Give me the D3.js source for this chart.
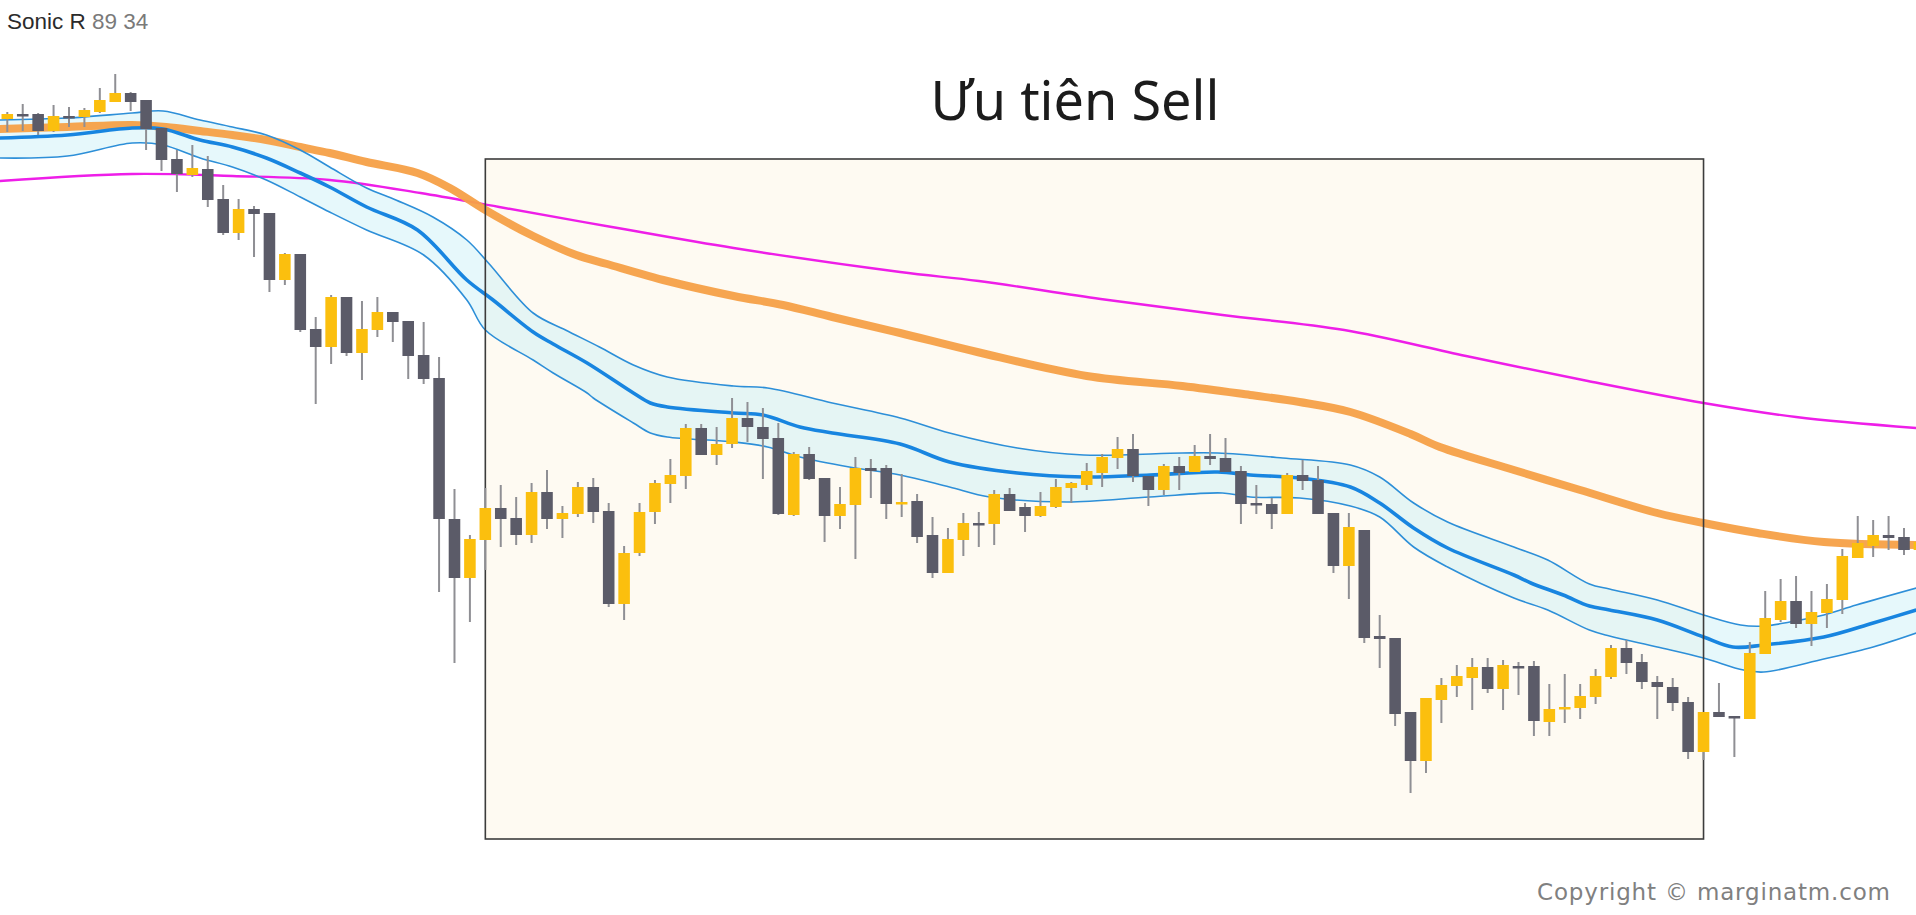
<!DOCTYPE html>
<html><head><meta charset="utf-8">
<script src="https://cdn.jsdelivr.net/npm/d3@7"></script>
<style>html,body{margin:0;padding:0;background:#fff;overflow:hidden}</style>
</head><body><svg id="chart"></svg>
<script>
// ---- Candle data (price points) ----
const openP=[881,886,886,869,884,883,888,898,907,900,
872,841,825,831,801,767,791,787,720,746,
671,653,703,647,670,688,679,645,622,481,
422,460,492,482,465,508,481,486,513,489,
396,447,488,516,524,572,545,556,582,573,
562,485,546,522,484,495,532,532,496,499,
465,427,460,477,476,506,493,484,493,512,
515,527,542,551,524,510,534,528,544,542,
529,497,496,486,525,520,487,434,470,364,
362,288,239,300,314,322,333,311,334,334,
278,291,292,303,323,352,338,318,313,298,
248,288,284,281,346,380,399,376,387,400,
442,454,465,463,450];
const closeP=[886,885,869,884,882,890,900,907,898,871,
840,826,832,800,767,791,786,720,746,670,
653,703,647,671,688,678,644,621,481,422,
461,492,481,465,508,481,487,513,488,396,
447,488,517,525,572,545,556,582,573,561,
486,546,521,484,496,532,529,496,498,463,
427,461,477,475,506,489,484,494,513,517,
529,543,551,524,510,534,527,544,541,528,
496,495,486,525,519,486,434,473,362,361,
286,239,302,315,324,333,311,335,333,279,
291,293,304,324,352,337,318,313,297,248,
288,283,282,347,382,399,376,388,401,444,
457,465,462,450,458];
const highP=[888,896,887,895,893,892,912,926,908,900,
872,850,855,844,815,801,794,787,747,746,
683,705,703,699,703,688,679,678,643,511,
465,512,515,503,517,530,494,518,522,497,
454,497,520,541,576,576,573,602,598,592,
577,548,553,522,513,543,541,535,526,506,
483,472,487,488,510,512,497,508,521,518,
537,546,563,566,524,536,543,555,566,562,
534,515,502,527,540,534,487,487,470,385,
362,288,302,322,335,342,342,340,338,339,
316,326,316,331,355,360,346,324,322,303,
288,317,284,358,409,421,424,409,416,451,
484,480,484,472,462];
const lowP=[868,869,865,868,873,873,887,898,889,850,
829,808,823,793,765,760,743,708,715,668,
596,636,644,620,663,658,621,616,408,337,
378,430,453,455,457,471,462,483,477,393,
380,444,476,497,511,545,535,552,558,521,
485,484,520,458,471,441,502,481,483,457,
422,427,444,453,455,489,468,483,492,497,
510,513,531,518,494,505,510,528,535,528,
476,486,471,486,510,486,427,401,357,332,
274,207,227,277,303,290,307,290,305,264,
264,277,281,296,321,326,311,281,289,241,
240,283,243,281,346,378,372,354,372,386,
442,443,450,445,448];

// ---- Indicator lines: [bar, value] ----
const emaHigh=[[-0.5,880],[3.9,882],[8.1,887],[10.1,889],[12.5,880],[14.6,873],[16.8,865],[19,850],[20.9,833],[23.3,812],[25.2,800],[27.6,783],[29.8,760],[31.2,737],[34.1,687],[36.2,670],[38.4,653],[40.6,635],[42.8,623],[47.1,614],[49.3,612],[53.5,597],[57.9,582],[61.1,567],[65.5,552],[69.8,545],[76.2,547],[78.5,547],[82.7,542],[87.1,535],[89,523],[91.2,497],[93.4,478],[97.7,453],[99.9,440],[102.6,416],[103.9,411],[107,400],[110,385],[112.4,375],[113.9,374],[115.6,378],[117.8,385],[119.9,395],[123.8,412]];
const emaClose=[[-0.5,862],[3.9,865],[8.1,872],[10.1,871],[12.5,860],[14.6,853],[16.8,842],[19,827],[20.9,813],[23.3,793],[26.6,770],[29.8,720],[31.5,700],[34.1,668],[35.4,656],[37.6,637],[40.6,607],[41.7,597],[42.8,593],[47.1,587],[49,585],[51.4,573],[53.5,567],[57.9,556],[61.1,538],[65.5,527],[69.8,523],[74.1,525],[78.5,528],[80.6,525],[83.8,522],[87.1,513],[89,497],[91.2,472],[93.4,452],[97.7,425],[98.8,417],[100.9,405],[102.6,394],[103.9,390],[107,380],[110,363],[111.9,353],[113.9,355],[117.8,363],[121,377],[123.8,390]];
const emaLow=[[-0.5,842],[3.9,844],[8.1,857],[10.1,855],[12.5,842],[14.6,833],[16.8,820],[19,803],[20.9,788],[23.3,770],[27,745],[29.8,700],[31,670],[34.1,640],[35.4,627],[37.6,607],[38,602],[40.6,577],[41.7,567],[42.8,563],[47.1,558],[49.3,553],[51.4,543],[54.6,533],[57.9,525],[61.1,513],[63.7,503],[68.7,498],[74.1,503],[78.8,507],[80.6,503],[83.8,502],[87.1,494],[89,483],[91.2,453],[93.4,433],[97.7,402],[99.9,390],[102.6,370],[103.9,364],[107,353],[110,342],[112.6,330],[113.9,328],[117.8,341],[121,353],[123.8,367]];
const ema89=[[-0.5,871],[3.9,873],[8.1,875],[10.3,873],[12.5,869],[14.6,865],[16.8,860],[19,853],[20.9,847],[23.3,838],[26.6,827],[28.7,812],[31,790],[34.1,764],[36.9,745],[38.9,736],[42.8,719],[47.1,704],[50.3,695],[53.5,683],[57.9,667],[62.9,648],[70,624],[76.2,614],[80.6,605],[83.8,598],[87.1,588],[91,566],[92.9,553],[97.7,530],[102,510],[107,487],[110,477],[113.5,467],[117.8,458],[123.8,455]];
const ema200=[[-0.5,819],[8.1,826],[14.6,824],[20.9,820],[26.8,807],[31.9,793],[39.2,773],[47.1,752],[57.9,728],[63,719],[70.9,701],[78.8,685],[86.7,670],[94.6,644],[102.5,619],[110,597],[116,583],[123.8,572]];

// ---- Zone and labels ----
const zoneBars=[31,110];
const zonePrices=[841,161];
const titleText="Ưu tiên Sell";
const indicatorName="Sonic R";
const indicatorParams="89 34";
const copyrightText="Copyright © marginatm.com";

const W=1916,H=915;
const svg=d3.select("#chart").attr("width",W).attr("height",H);
const x=d3.scaleLinear().domain([0,123]).range([7.3,1904]);
const y=d3.scaleLinear().domain([85,1000]).range([915,0]);
const step=x(1)-x(0);
const bw=step*0.75;

// zone fill
svg.append("rect")
  .attr("x",x(zoneBars[0])).attr("y",y(zonePrices[0]))
  .attr("width",x(zoneBars[1])-x(zoneBars[0]))
  .attr("height",y(zonePrices[1])-y(zonePrices[0]))
  .attr("fill","#fefaf2");

const line=d3.line().x(d=>x(d[0])).y(d=>y(d[1])).curve(d3.curveCatmullRom.alpha(0.5));

// band fill
const up=line(emaHigh);
const lowRev=line(emaLow.slice().reverse());
svg.append("path").attr("d",up+"L"+lowRev.slice(1)+"Z")
  .attr("fill","#c8f0f6").attr("fill-opacity",0.45);

svg.append("path").attr("d",line(ema200)).attr("fill","none")
  .attr("stroke","#ee1ee8").attr("stroke-width",2.4);
svg.append("path").attr("d",line(ema89)).attr("fill","none")
  .attr("stroke","#f5a047").attr("stroke-width",8).attr("stroke-opacity",0.95).attr("stroke-linecap","round");

svg.append("path").attr("d",line(emaHigh)).attr("fill","none")
  .attr("stroke","#2d8fd8").attr("stroke-width",1.6);
svg.append("path").attr("d",line(emaLow)).attr("fill","none")
  .attr("stroke","#2d8fd8").attr("stroke-width",1.6);
svg.append("path").attr("d",line(emaClose)).attr("fill","none")
  .attr("stroke","#1885e0").attr("stroke-width",3.6);

// zone border
svg.append("rect")
  .attr("x",x(zoneBars[0])).attr("y",y(zonePrices[0]))
  .attr("width",x(zoneBars[1])-x(zoneBars[0]))
  .attr("height",y(zonePrices[1])-y(zonePrices[0]))
  .attr("fill","none").attr("stroke","#3c3c3c").attr("stroke-width",1.6);

// candles
const idx=d3.range(openP.length);
const g=svg.append("g");
g.selectAll("line.wick").data(idx).join("line")
  .attr("x1",i=>x(i)).attr("x2",i=>x(i))
  .attr("y1",i=>y(highP[i])).attr("y2",i=>y(lowP[i]))
  .attr("stroke","#8f8f94").attr("stroke-width",2);
g.selectAll("rect.body").data(idx).join("rect")
  .attr("x",i=>x(i)-bw/2).attr("width",bw)
  .attr("y",i=>y(Math.max(openP[i],closeP[i])))
  .attr("height",i=>Math.max(2.5,Math.abs(y(openP[i])-y(closeP[i]))))
  .attr("fill",i=>closeP[i]>=openP[i]?"#fbbf0e":"#5b5b68");

// texts
const t=svg.append("text").attr("x",7).attr("y",29)
  .attr("font-family","Liberation Sans, Arial, sans-serif").attr("font-size",22.5);
t.append("tspan").attr("fill","#2b2b2b").text(indicatorName+" ");
t.append("tspan").attr("fill","#7a7a7a").text(indicatorParams);

svg.append("text").attr("x",1075).attr("y",120).attr("text-anchor","middle")
  .attr("font-family","Noto Sans, Open Sans, sans-serif").attr("font-size",54)
  .attr("fill","#1c1c1c").text(titleText);

svg.append("text").attr("x",1537).attr("y",900)
  .attr("font-family","DejaVu Sans, sans-serif").attr("font-size",23)
  .attr("fill","#808080").attr("textLength",353).attr("lengthAdjust","spacing")
  .text(copyrightText);
</script></body></html>
